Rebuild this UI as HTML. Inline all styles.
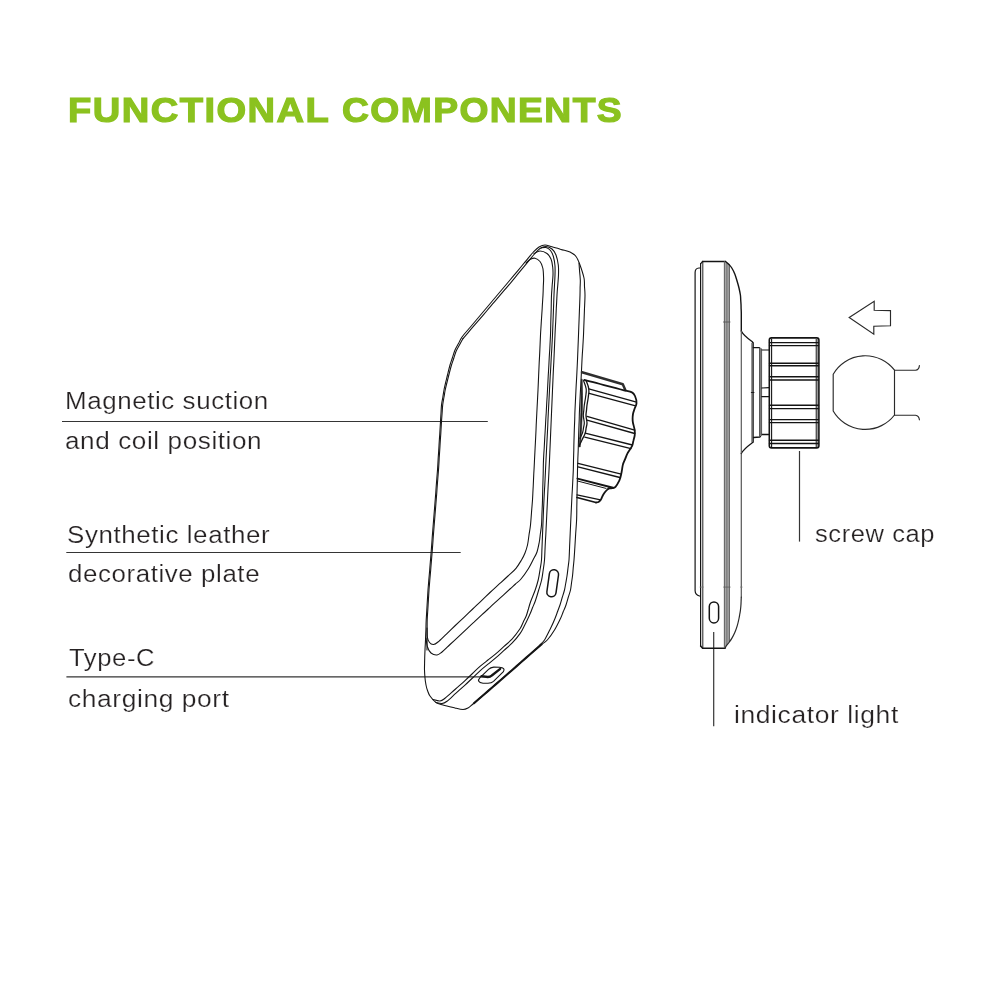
<!DOCTYPE html>
<html>
<head>
<meta charset="utf-8">
<title>Functional Components</title>
<style>
html,body{margin:0;padding:0;background:#fff;}
body{width:1000px;height:1000px;position:relative;overflow:hidden;font-family:"Liberation Sans",sans-serif;}
svg{position:absolute;left:0;top:0;}
.t{will-change:transform;position:absolute;white-space:nowrap;line-height:1;transform-origin:0 0;display:block;}
.h{font-weight:bold;font-size:34.4px;color:#8bc21f;top:93.1px;-webkit-text-stroke:1.2px #8bc21f;}
.l{font-size:22px;color:#262223;letter-spacing:0.5px;-webkit-text-stroke:0.2px #fff;}
</style>
</head>
<body>
<svg width="1000" height="1000" viewBox="0 0 1000 1000" fill="none" stroke="#141414" stroke-linecap="round" stroke-linejoin="round">
<path d="M62.0,421.5L487.8,421.5" stroke-width="1.2" stroke="#353535" stroke-linecap="butt"/>
<path d="M66.3,552.5L460.7,552.5" stroke-width="1.2" stroke="#353535" stroke-linecap="butt"/>
<path d="M66.4,676.9L489.0,676.9" stroke-width="1.25" stroke="#353535" stroke-linecap="butt"/>
<path d="M799.5,451.0L799.5,541.6" stroke-width="1.2" stroke="#353535" stroke-linecap="butt"/>
<path d="M713.7,632.0L713.7,726.2" stroke-width="1.2" stroke="#353535" stroke-linecap="butt"/>
<path d="M424.8,655.0C424.9,652.6 425.0,650.0 425.1,647.5C425.3,645.0 425.4,642.9 425.5,640.0C425.6,637.1 425.7,633.3 425.9,630.0C426.0,626.7 426.0,623.3 426.2,620.0C426.4,616.7 426.6,613.3 426.8,610.0C427.0,606.7 427.2,603.3 427.4,600.0C427.6,596.7 427.8,593.3 428.0,590.0C428.2,586.7 428.6,583.3 428.8,580.0C429.1,576.7 429.4,573.3 429.7,570.0C429.9,566.7 430.2,563.5 430.5,560.0C430.8,556.5 431.1,552.5 431.4,548.8C431.7,545.0 432.0,541.2 432.2,537.5C432.5,533.8 432.8,530.0 433.1,526.2C433.4,522.5 433.7,518.8 434.0,515.0C434.3,511.2 434.6,507.5 434.9,503.8C435.2,500.0 435.5,496.2 435.8,492.5C436.0,488.8 436.3,485.0 436.6,481.2C436.9,477.5 437.2,473.9 437.5,470.0C437.8,466.1 438.0,461.9 438.2,457.9C438.5,453.8 438.8,449.8 439.0,445.8C439.2,441.7 439.5,437.7 439.8,433.6C440.0,429.6 440.3,424.9 440.5,421.5C440.7,418.1 440.8,416.0 441.0,413.2C441.2,410.5 441.2,407.6 441.5,405.0C441.8,402.4 442.3,400.0 442.8,397.5C443.2,395.0 443.4,393.1 444.0,390.0C444.6,386.9 445.8,382.0 446.5,379.0C447.2,376.0 447.7,374.3 448.2,372.0C448.8,369.7 449.3,367.4 450.0,365.0C450.7,362.6 451.7,360.0 452.5,357.5C453.3,355.0 454.0,352.3 455.0,350.0C456.0,347.7 457.3,345.7 458.5,343.5C459.7,341.3 460.1,339.7 462.0,337.0C463.9,334.3 467.3,330.7 470.0,327.5C472.7,324.3 475.3,321.2 478.0,318.0C480.7,314.8 483.3,311.7 486.0,308.5C488.7,305.3 491.3,302.2 494.0,299.0C496.7,295.8 499.3,292.7 502.0,289.5C504.7,286.3 507.4,283.1 510.0,280.0C512.6,276.9 515.1,273.9 517.7,270.8C520.2,267.8 522.8,264.7 525.3,261.7C527.9,258.6 530.7,254.9 533.0,252.5C535.3,250.1 537.0,248.2 539.0,247.0C541.0,245.8 542.8,245.0 545.0,245.0C547.2,245.0 549.3,246.1 552.0,246.8C554.7,247.5 558.0,248.5 561.0,249.4C564.0,250.3 567.5,250.8 570.0,252.0C572.5,253.2 574.3,254.3 576.0,256.5C577.7,258.7 578.7,261.4 580.0,265.0C581.3,268.6 583.2,274.4 584.0,278.0C584.8,281.6 584.3,283.7 584.5,286.5C584.7,289.3 585.0,291.4 585.0,295.0C585.0,298.6 584.7,303.9 584.5,308.3C584.3,312.8 584.2,317.2 584.0,321.7C583.8,326.1 583.7,330.7 583.5,335.0C583.3,339.3 583.0,343.3 582.8,347.5C582.5,351.7 582.2,355.8 582.0,360.0C581.8,364.2 581.6,368.3 581.4,372.5C581.2,376.7 581.0,380.8 580.8,385.0C580.5,389.2 580.3,393.3 580.1,397.5C579.9,401.7 579.7,406.2 579.5,410.0C579.3,413.8 579.3,416.7 579.2,420.0C579.1,423.3 578.9,426.7 578.8,430.0C578.7,433.3 578.6,436.7 578.5,440.0C578.4,443.3 578.3,446.7 578.2,450.0C578.1,453.3 577.9,456.7 577.8,460.0C577.7,463.3 577.6,466.2 577.5,470.0C577.4,473.8 577.4,478.3 577.3,482.5C577.2,486.7 577.1,490.8 577.0,495.0C577.0,499.2 576.9,503.3 576.8,507.5C576.8,511.7 576.8,515.7 576.6,520.0C576.4,524.3 576.0,528.9 575.7,533.3C575.4,537.8 575.2,542.2 574.9,546.7C574.6,551.1 574.3,556.4 574.0,560.0C573.7,563.6 573.5,565.3 573.2,568.0C573.0,570.7 572.8,573.5 572.5,576.0C572.2,578.5 571.8,580.7 571.5,583.0C571.2,585.3 571.0,587.6 570.5,590.0C570.0,592.4 569.0,595.0 568.2,597.5C567.5,600.0 566.8,602.6 566.0,605.0C565.2,607.4 564.2,609.5 563.2,611.8C562.3,614.0 562.0,615.5 560.5,618.5C559.0,621.5 556.7,626.4 554.5,630.0C552.3,633.6 549.7,637.4 547.3,640.0C544.9,642.6 542.8,643.3 540.0,645.6C537.2,647.9 533.8,651.1 530.7,653.8C527.6,656.5 524.4,659.3 521.3,662.0C518.2,664.7 515.2,667.4 512.0,670.2C508.8,673.0 505.5,675.8 502.2,678.7C499.0,681.5 495.8,684.3 492.5,687.1C489.2,689.9 486.0,692.7 482.8,695.5C479.5,698.4 475.5,701.9 473.0,704.0C470.5,706.1 469.7,707.1 468.0,708.0C466.3,708.9 465.2,709.5 463.0,709.5C460.8,709.5 458.3,708.8 455.0,708.0C451.7,707.2 446.2,705.9 443.0,705.0C439.8,704.1 438.2,704.0 436.0,702.5C433.8,701.0 431.4,698.0 430.0,696.0C428.6,694.0 428.2,692.3 427.5,690.5C426.8,688.7 426.4,687.1 426.0,685.0C425.6,682.9 425.2,680.5 425.0,678.0C424.8,675.5 424.6,672.7 424.5,670.0C424.4,667.3 424.6,664.5 424.6,662.0C424.7,659.5 424.7,657.4 424.8,655.0Z" stroke-width="1.08" />
<path d="M541.5,644.4C541.2,644.6 541.8,644.0 540.0,645.6C538.2,647.2 533.8,651.1 530.7,653.8C527.6,656.5 524.4,659.3 521.3,662.0C518.2,664.7 515.1,667.5 512.0,670.2C508.9,672.9 505.7,675.7 502.5,678.5C499.3,681.2 496.2,684.0 493.0,686.7C489.8,689.5 486.7,692.2 483.5,695.0C480.3,697.7 475.6,701.8 474.0,703.2" stroke-width="2.1" />
<path d="M579.0,263.0C579.1,264.4 579.4,268.7 579.6,271.5C579.9,274.3 580.2,277.3 580.3,280.0C580.4,282.7 580.2,285.0 580.1,287.5C580.1,290.0 580.1,291.5 580.0,295.0C579.9,298.5 579.7,303.9 579.5,308.3C579.3,312.8 579.2,317.2 579.0,321.7C578.8,326.1 578.7,330.7 578.5,335.0C578.3,339.3 578.2,343.3 578.0,347.5C577.8,351.7 577.7,355.8 577.5,360.0C577.3,364.2 577.1,368.3 576.9,372.5C576.7,376.7 576.5,380.8 576.2,385.0C576.0,389.2 575.8,393.3 575.6,397.5C575.4,401.7 575.2,406.2 575.0,410.0C574.8,413.8 574.8,416.7 574.7,420.0C574.6,423.3 574.4,426.7 574.3,430.0C574.2,433.3 574.1,436.7 574.0,440.0C573.9,443.3 573.8,446.7 573.8,450.0C573.7,453.3 573.6,456.7 573.5,460.0C573.5,463.3 573.4,466.2 573.3,470.0C573.2,473.8 572.9,478.3 572.7,482.5C572.5,486.7 572.3,490.8 572.0,495.0C571.8,499.2 571.6,503.3 571.4,507.5C571.2,511.7 571.0,515.7 570.8,520.0C570.6,524.3 570.4,528.9 570.2,533.3C570.0,537.8 569.8,542.2 569.6,546.7C569.4,551.1 569.3,556.4 569.0,560.0C568.7,563.6 568.3,565.3 568.0,568.0C567.7,570.7 567.4,573.5 567.0,576.0C566.6,578.5 566.2,580.7 565.8,583.0C565.3,585.3 565.1,587.6 564.5,590.0C563.9,592.4 563.0,595.0 562.2,597.5C561.5,600.0 560.8,602.6 560.0,605.0C559.2,607.4 558.3,609.5 557.5,611.8C556.7,614.0 556.2,615.5 555.0,618.5C553.8,621.5 551.8,625.9 550.0,629.5C548.2,633.1 546.2,637.5 544.5,640.0C542.8,642.5 540.8,644.0 540.0,644.8" stroke-width="1.08" />
<path d="M462.8,338.8C464.2,337.2 468.3,332.4 471.0,329.2C473.8,326.0 476.5,322.8 479.3,319.6C482.0,316.4 484.8,313.2 487.5,310.0C490.2,306.8 492.8,303.7 495.5,300.6C498.2,297.5 500.8,294.3 503.5,291.2C506.2,288.1 508.9,284.9 511.5,281.8C514.1,278.7 516.5,275.7 519.0,272.7C521.5,269.7 524.0,266.6 526.5,263.6C529.0,260.6 531.8,257.0 534.0,254.5C536.2,252.0 538.0,249.8 540.0,248.5C542.0,247.2 544.0,246.4 546.0,246.5C548.0,246.6 550.3,247.6 552.0,249.0C553.7,250.4 555.0,252.3 556.0,255.0C557.0,257.7 557.9,261.7 558.3,265.0C558.7,268.3 558.6,271.7 558.5,275.0C558.4,278.3 558.0,281.7 557.8,285.0C557.5,288.3 557.2,291.1 557.0,295.0C556.8,298.9 556.6,303.9 556.3,308.3C556.1,312.8 555.9,317.2 555.7,321.7C555.4,326.1 555.2,330.5 555.0,335.0C554.8,339.5 554.6,344.2 554.4,348.8C554.2,353.3 554.0,357.9 553.8,362.5C553.5,367.1 553.3,371.7 553.1,376.2C552.9,380.8 552.7,385.8 552.5,390.0C552.3,394.2 552.2,397.8 552.0,401.7C551.8,405.6 551.7,409.4 551.5,413.3C551.3,417.2 551.2,421.1 551.0,425.0C550.8,428.9 550.7,432.8 550.5,436.7C550.3,440.6 550.2,444.4 550.0,448.3C549.8,452.2 549.7,456.0 549.5,460.0C549.3,464.0 549.1,468.3 548.9,472.5C548.7,476.7 548.5,480.8 548.2,485.0C548.0,489.2 547.8,493.3 547.6,497.5C547.4,501.7 547.2,505.8 547.0,510.0C546.8,514.2 546.6,518.3 546.4,522.5C546.2,526.7 546.0,530.8 545.8,535.0C545.5,539.2 545.3,543.3 545.1,547.5C544.9,551.7 544.8,556.2 544.5,560.0C544.2,563.8 543.7,566.7 543.2,570.0C542.7,573.3 542.4,576.7 541.6,580.0C540.9,583.3 539.8,586.5 538.7,590.0C537.7,593.5 536.3,598.1 535.3,601.0C534.3,603.9 533.5,605.3 532.6,607.5C531.8,609.7 531.3,611.2 530.0,614.0C528.7,616.8 526.7,621.2 525.0,624.5C523.3,627.8 522.2,630.5 520.0,633.6C517.8,636.7 514.7,640.4 512.0,643.2C509.3,646.0 506.7,648.0 504.0,650.4C501.3,652.8 498.7,655.3 496.0,657.6C493.3,659.9 490.7,662.0 488.0,664.2C485.3,666.4 482.6,668.5 480.0,670.8C477.4,673.1 475.0,675.6 472.5,678.0C470.0,680.3 467.8,682.6 465.0,685.1C462.2,687.6 459.0,690.5 456.0,693.2C453.0,695.8 449.3,699.5 447.0,701.2C444.7,702.9 443.8,703.3 442.0,703.5C440.2,703.7 437.0,702.7 436.0,702.5" stroke-width="1.08" />
<path d="M541.0,248.0C541.8,247.9 544.4,247.1 546.0,247.5C547.6,247.9 549.2,248.9 550.5,250.5C551.8,252.1 552.8,254.4 553.5,257.0C554.2,259.6 554.8,263.0 555.0,266.0C555.2,269.0 555.1,271.8 555.0,275.0C554.9,278.2 554.7,281.7 554.5,285.0C554.3,288.3 554.2,291.1 554.0,295.0C553.8,298.9 553.7,303.9 553.5,308.3C553.3,312.8 553.2,317.2 553.0,321.7C552.8,326.1 552.7,330.5 552.5,335.0C552.3,339.5 552.0,344.2 551.8,348.8C551.5,353.3 551.2,357.9 551.0,362.5C550.8,367.1 550.5,371.7 550.2,376.2C550.0,380.8 549.7,385.8 549.5,390.0C549.3,394.2 549.1,397.8 548.9,401.7C548.7,405.6 548.5,409.4 548.3,413.3C548.1,417.2 547.9,421.1 547.8,425.0C547.6,428.9 547.4,432.8 547.2,436.7C547.0,440.6 546.8,444.4 546.6,448.3C546.4,452.2 546.2,456.0 546.0,460.0C545.8,464.0 545.6,468.3 545.4,472.5C545.2,476.7 545.0,480.8 544.8,485.0C544.5,489.2 544.3,493.3 544.1,497.5C543.9,501.7 543.7,505.8 543.5,510.0C543.3,514.2 543.2,518.3 543.0,522.5C542.8,526.7 542.7,530.8 542.5,535.0C542.3,539.2 542.2,543.3 542.0,547.5C541.8,551.7 541.8,556.2 541.5,560.0C541.2,563.8 540.5,566.7 540.0,570.0C539.5,573.3 539.0,576.7 538.2,580.0C537.4,583.3 536.5,586.3 535.2,590.0C533.9,593.7 531.6,598.8 530.5,602.0C529.4,605.2 529.1,606.7 528.4,609.0C527.6,611.3 527.1,613.8 526.2,616.0C525.3,618.2 524.1,620.3 523.1,622.4C522.1,624.5 521.9,626.0 520.0,628.8C518.1,631.6 514.7,636.3 512.0,639.2C509.3,642.1 506.7,644.0 504.0,646.4C501.3,648.8 498.7,651.3 496.0,653.6C493.3,655.9 490.7,657.9 488.0,660.0C485.3,662.1 482.6,664.1 480.0,666.4C477.4,668.6 475.0,671.1 472.5,673.5C470.0,675.9 467.9,677.9 465.0,680.6C462.1,683.3 458.3,686.5 455.0,689.5C451.7,692.4 447.5,696.4 445.0,698.3C442.5,700.2 442.0,700.8 440.0,701.0C438.0,701.2 434.2,699.8 433.0,699.5" stroke-width="1.08" />
<path d="M534.0,253.5C535.0,253.1 537.8,251.0 540.0,251.0C542.2,251.0 545.2,252.2 547.0,253.5C548.8,254.8 550.0,256.8 551.0,259.0C552.0,261.2 552.4,264.3 552.7,267.0C553.0,269.7 553.1,272.0 553.0,275.0C552.9,278.0 552.5,281.7 552.2,285.0C552.0,288.3 551.7,291.1 551.5,295.0C551.3,298.9 551.3,303.9 551.2,308.3C551.1,312.8 550.9,317.2 550.8,321.7C550.7,326.1 550.7,330.5 550.5,335.0C550.3,339.5 550.0,344.2 549.8,348.8C549.5,353.3 549.2,357.9 549.0,362.5C548.8,367.1 548.5,371.7 548.2,376.2C548.0,380.8 547.7,385.8 547.5,390.0C547.3,394.2 547.1,397.8 546.8,401.7C546.6,405.6 546.4,409.4 546.2,413.3C545.9,417.2 545.7,421.1 545.5,425.0C545.3,428.9 545.1,432.8 544.8,436.7C544.6,440.6 544.4,444.4 544.2,448.3C543.9,452.2 543.7,455.8 543.5,460.0C543.3,464.2 543.3,468.9 543.2,473.3C543.1,477.8 542.9,482.2 542.8,486.7C542.7,491.1 542.6,495.7 542.5,500.0C542.4,504.3 542.2,508.3 542.0,512.5C541.8,516.7 541.8,521.5 541.5,525.0C541.2,528.5 540.8,530.7 540.4,533.5C540.0,536.3 539.9,538.9 539.3,542.0C538.7,545.1 538.0,549.0 537.0,552.0C536.0,555.0 534.4,557.2 533.0,560.0C531.6,562.8 530.5,565.3 528.5,568.5C526.5,571.7 523.2,576.4 521.0,579.0C518.8,581.6 517.3,582.3 515.5,584.0C513.7,585.7 512.6,586.6 510.0,589.0C507.4,591.4 503.3,595.1 500.0,598.1C496.7,601.2 493.0,604.5 490.0,607.3C487.0,610.1 484.7,612.3 482.0,614.7C479.3,617.2 476.7,619.7 474.0,622.2C471.3,624.6 468.7,627.1 466.0,629.6C463.3,632.1 460.7,634.6 458.0,637.1C455.3,639.6 452.7,642.0 450.0,644.5C447.3,647.0 444.2,650.3 442.0,652.0C439.8,653.7 438.8,654.8 437.0,655.0C435.2,655.2 432.6,654.3 431.0,653.0C429.4,651.7 428.3,649.5 427.5,647.0C426.7,644.5 426.2,639.5 426.0,638.0" stroke-width="1.08" />
<path d="M526.0,263.0C526.7,262.4 528.5,260.3 530.0,259.5C531.5,258.7 533.3,257.9 535.0,258.2C536.7,258.5 538.7,259.9 540.0,261.5C541.3,263.1 542.2,265.2 542.8,268.0C543.4,270.8 543.5,274.9 543.6,278.0C543.7,281.1 543.4,283.7 543.3,286.5C543.2,289.3 543.2,291.4 543.0,295.0C542.8,298.6 542.4,303.9 542.2,308.3C541.9,312.8 541.6,317.2 541.3,321.7C541.1,326.1 540.7,330.5 540.5,335.0C540.3,339.5 540.1,344.2 539.9,348.8C539.7,353.3 539.5,357.9 539.2,362.5C539.0,367.1 538.8,371.7 538.6,376.2C538.4,380.8 538.2,385.8 538.0,390.0C537.8,394.2 537.6,397.8 537.4,401.7C537.2,405.6 537.0,409.4 536.8,413.3C536.6,417.2 536.4,421.1 536.2,425.0C536.1,428.9 535.9,432.8 535.7,436.7C535.5,440.6 535.3,444.4 535.1,448.3C534.9,452.2 534.7,455.8 534.5,460.0C534.3,464.2 534.1,468.9 533.8,473.3C533.6,477.8 533.4,482.2 533.2,486.7C532.9,491.1 532.8,495.7 532.5,500.0C532.2,504.3 531.8,508.3 531.5,512.5C531.2,516.7 530.9,521.2 530.5,525.0C530.1,528.8 529.5,531.7 529.0,535.0C528.5,538.3 528.2,542.0 527.5,545.0C526.8,548.0 526.0,550.5 525.0,553.0C524.0,555.5 523.0,557.5 521.5,560.0C520.0,562.5 518.2,565.6 516.0,568.3C513.8,571.0 510.8,573.3 508.0,576.0C505.2,578.7 502.0,581.5 499.0,584.2C496.0,587.0 492.9,589.7 490.0,592.5C487.1,595.3 484.2,598.0 481.3,600.8C478.4,603.5 475.6,606.3 472.7,609.0C469.8,611.8 466.9,614.5 464.0,617.3C461.1,620.0 458.2,622.8 455.3,625.5C452.4,628.3 449.6,631.0 446.7,633.8C443.8,636.5 440.2,640.2 438.0,642.0C435.8,643.8 434.9,644.4 433.5,644.5C432.1,644.6 430.5,643.8 429.5,642.5C428.5,641.2 427.7,639.4 427.3,637.0C426.9,634.6 427.1,629.5 427.0,628.0" stroke-width="1.08" />
<path d="M427.0,650.0C427.0,648.3 427.0,643.3 427.1,640.0C427.1,636.7 427.1,633.3 427.1,630.0C427.2,626.7 427.1,623.3 427.2,620.0C427.3,616.7 427.6,613.3 427.8,610.0C428.0,606.7 428.2,603.3 428.4,600.0C428.6,596.7 428.8,593.3 429.0,590.0C429.2,586.7 429.6,583.3 429.8,580.0C430.1,576.7 430.4,573.3 430.7,570.0C430.9,566.7 431.2,563.5 431.5,560.0C431.8,556.5 432.1,552.5 432.4,548.8C432.7,545.0 433.0,541.2 433.2,537.5C433.5,533.8 433.8,530.0 434.1,526.2C434.4,522.5 434.7,518.8 435.0,515.0C435.3,511.2 435.6,507.5 435.9,503.8C436.2,500.0 436.5,496.2 436.8,492.5C437.0,488.8 437.3,485.0 437.6,481.2C437.9,477.5 438.2,473.9 438.5,470.0C438.8,466.1 439.0,461.9 439.2,457.9C439.5,453.8 439.8,449.8 440.0,445.8C440.2,441.7 440.5,437.7 440.8,433.6C441.0,429.6 441.3,424.9 441.5,421.5C441.7,418.1 441.9,416.0 442.1,413.2C442.3,410.5 442.4,407.6 442.7,405.0C443.0,402.4 443.5,400.0 443.9,397.5C444.4,395.0 444.6,393.0 445.2,390.0C445.8,387.0 446.7,383.5 447.7,379.5C448.7,375.5 450.2,369.5 451.2,366.0C452.2,362.5 452.9,361.0 453.7,358.5C454.5,356.0 455.2,353.3 456.2,351.0C457.2,348.7 458.5,346.8 459.6,344.8C460.7,342.7 462.4,339.5 463.0,338.5" stroke-width="1.08" />
<path d="M549.4,573.6 a4.6,4.6 0 0 1 9.1,1.4 l-2.5,17.9 a4.6,4.6 0 0 1 -9.1,-1.4 Z" stroke-width="1.5" />
<path d="M480,677.6 L488.5,669.3 Q490.5,667.4 493.8,667.1 L499.5,667.2 Q505.8,667.8 503.4,671.6 L493.5,681.3 Q491.5,683 488,683.3 L483,683.2 Q476,682 480,677.6 Z" stroke-width="1.1" />
<path d="M481.5,676.1 L487.8,677 Q490.3,677 491.8,675.5 L500.2,668.8" stroke-width="2.3" />
<path d="M582.0,372.2L622.8,384.3L625.3,390.0" stroke-width="2.5" stroke="#2e2e2e"/>
<path d="M584.3,379.8C585.6,380.2 589.6,381.2 592.2,381.9C594.8,382.6 597.5,383.3 600.1,384.0C602.7,384.7 605.4,385.4 608.0,386.1C610.6,386.8 613.3,387.5 616.0,388.2C618.7,388.9 621.3,389.6 624.0,390.3C626.7,391.0 630.2,391.4 632.0,392.4C633.8,393.3 634.2,394.2 635.0,396.0C635.8,397.8 636.6,401.0 636.5,403.2C636.4,405.4 635.1,407.2 634.5,409.0C633.9,410.8 633.3,412.3 633.0,414.0C632.7,415.7 632.6,417.5 632.6,419.0C632.6,420.5 632.6,421.1 633.0,423.0C633.4,424.9 634.4,428.1 634.7,430.2C635.0,432.3 634.9,433.6 634.7,435.4C634.5,437.2 633.8,439.0 633.4,440.8C632.9,442.6 633.0,444.1 632.0,446.2C631.0,448.3 628.6,451.3 627.5,453.4C626.4,455.5 626.0,457.0 625.2,458.8C624.5,460.6 623.5,462.5 623.0,464.2C622.5,465.9 622.4,467.5 622.1,469.1C621.8,470.8 621.7,472.2 621.2,474.1C620.8,476.0 620.4,478.3 619.4,480.4C618.4,482.5 616.7,485.5 615.5,486.8C614.3,488.1 613.1,487.9 612.0,488.2C610.9,488.5 609.2,488.4 608.6,488.5" stroke-width="1.8" />
<path d="M586.0,380.3C586.5,381.7 588.4,386.0 588.8,388.8C589.2,391.6 588.6,394.3 588.3,397.0C588.0,399.7 587.3,402.8 587.0,405.0C586.7,407.2 586.7,408.6 586.5,410.4C586.3,412.2 585.9,413.7 586.0,415.8C586.1,417.9 587.0,420.9 587.0,423.0C587.0,425.1 586.4,426.4 586.1,428.1C585.8,429.8 585.9,431.2 585.2,433.2C584.5,435.2 583.0,437.8 582.0,440.0C581.0,442.2 579.4,445.2 578.9,446.2" stroke-width="1.3" />
<path d="M583.5,380.5C584.0,381.9 585.9,386.2 586.2,389.0C586.6,391.8 585.9,394.3 585.6,397.0C585.3,399.7 584.6,402.8 584.3,405.0C584.0,407.2 584.0,408.6 583.8,410.4C583.6,412.2 583.2,413.7 583.3,415.8C583.4,417.9 584.3,421.0 584.3,423.0C584.3,425.0 583.7,426.2 583.5,427.8C583.2,429.3 583.2,430.7 582.6,432.5C582.0,434.3 580.4,437.5 580.0,438.5" stroke-width="1.2" />
<path d="M588.8,388.8L635.6,401.9" stroke-width="1.3" />
<path d="M589.2,393.3L634.7,405.6" stroke-width="1.3" />
<path d="M587.0,416.3L634.7,430.2" stroke-width="1.3" />
<path d="M587.0,420.2L634.7,433.5" stroke-width="1.3" />
<path d="M585.2,433.2L632.4,445.0" stroke-width="1.3" />
<path d="M584.8,437.2L631.0,448.7" stroke-width="1.3" />
<path d="M578.0,463.3L621.2,474.1" stroke-width="1.3" />
<path d="M578.0,466.9L619.9,477.5" stroke-width="1.3" />
<path d="M577.5,478.6L613.0,487.8" stroke-width="2.0" />
<path d="M577.5,481.0L606.0,488.4" stroke-width="1.0" />
<path d="M608.6,488.5C608.1,489.0 606.4,490.4 605.5,491.5C604.6,492.6 603.8,493.8 603.2,494.8C602.6,495.8 602.3,496.6 601.9,497.5C601.4,498.4 601.1,499.4 600.5,500.2C599.9,500.9 599.2,501.6 598.5,502.0C597.8,502.4 596.4,502.4 596.0,502.5" stroke-width="1.8" />
<path d="M577.0,494.8L600.5,499.8" stroke-width="1.3" />
<path d="M577.0,497.5L596.0,502.5" stroke-width="1.8" />
<path d="M700.5,268 L699,268 Q695.1,268.3 695.1,272.5 L695.1,590.7 Q695.3,595 699.5,596 L700.5,596.2" stroke-width="1.2" />
<path d="M700.6,263.6 L702.8,261.5" stroke-width="1.2" />
<path d="M700.6,263.6L700.6,646.0" stroke-width="1.2" />
<path d="M702.8,261.8L702.8,648.0" stroke-width="1.05" stroke="#2a2a2a"/>
<path d="M702.5,261.5L725.5,261.5" stroke-width="1.5" />
<path d="M700.6,646 L702.6,648.3 L725,648.3" stroke-width="1.5" />
<path d="M724.2,261.8 L725.5,261.6 L729.7,265 L729.7,641.6 L726.4,645.6 L724.2,648 Z" stroke-width="0" fill="#a6a6a6" stroke="none"/>
<path d="M724.4,261.8L724.4,647.5" stroke-width="1.1" stroke="#666"/>
<path d="M726.9,263.0L726.9,645.0" stroke-width="1.0" stroke="#6e6e6e"/>
<path d="M729.4,264.8L729.4,641.5" stroke-width="1.1" stroke="#666"/>
<path d="M725.5,261.5C726.1,262.0 728.0,263.4 729.0,264.5C730.0,265.6 730.8,266.4 731.8,268.0C732.8,269.6 733.9,271.8 734.8,274.0C735.7,276.2 736.5,279.2 737.2,281.5C737.9,283.8 738.5,285.8 739.0,288.0C739.5,290.2 740.1,293.1 740.4,295.0C740.7,296.9 740.6,298.0 740.7,299.5C740.8,301.0 740.9,302.5 741.0,304.0C741.1,305.5 741.1,307.0 741.1,308.5C741.2,310.0 741.3,311.2 741.3,313.0C741.3,314.8 741.3,317.0 741.3,319.0C741.3,321.0 741.3,323.0 741.3,325.0C741.3,327.0 741.3,330.0 741.3,331.0" stroke-width="1.4" />
<path d="M741.3,331 Q743.5,335.5 752,341.5 L753.2,343 L753.2,347.6" stroke-width="1.3" />
<path d="M741.3,453.0L741.3,597.0" stroke-width="1.2" stroke="#555"/>
<path d="M741.3,597.0C741.2,598.2 741.1,601.8 741.0,604.0C740.9,606.2 740.6,608.8 740.4,610.5C740.2,612.2 739.9,613.2 739.7,614.5C739.5,615.8 739.4,616.6 739.0,618.5C738.6,620.4 737.9,623.5 737.2,625.8C736.5,628.1 735.7,630.4 734.8,632.5C733.9,634.6 732.8,636.7 731.8,638.4C730.8,640.1 729.9,641.3 729.0,642.5C728.1,643.7 727.1,644.6 726.4,645.6C725.7,646.6 725.2,647.8 725.0,648.3" stroke-width="1.2" stroke="#2a2a2a"/>
<path d="M753.2,437.5 L753.2,442 L751,443.8 Q744,449 741.3,453.5" stroke-width="1.3" />
<path d="M752.4,343.0L752.4,442.0" stroke-width="2.2" stroke="#6a6a6a" stroke-linecap="butt"/>
<path d="M753.4,343.0L753.4,442.0" stroke-width="0.9" stroke="#333"/>
<path d="M753.2,347.6 L759.5,347.6 L761.2,350 L769,350" stroke-width="1.2" />
<path d="M769,434.5 L761.5,434.5 L760,437 L753.5,437.5" stroke-width="1.3" />
<path d="M760.5,348.0L760.5,436.0" stroke-width="2.4" stroke="#7a7a7a" stroke-linecap="butt"/>
<path d="M759.5,347.5L759.5,436.5" stroke-width="0.8" stroke="#444"/>
<path d="M761.6,349.5L761.6,434.5" stroke-width="0.8" stroke="#444"/>
<path d="M761.8,388.0L769.0,387.6" stroke-width="1.1" />
<path d="M761.8,396.6L769.0,396.6" stroke-width="1.3" />
<path d="M751.3,392.5L754.0,392.5" stroke-width="0.9" />
<path d="M741.3,331.0L741.3,453.0" stroke-width="1.2" stroke="#5a5a5a"/>
<path d="M723.5,322.0L730.0,322.0" stroke-width="0.9" stroke="#555"/>
<path d="M700.0,587.1L703.4,587.1" stroke-width="0.7" stroke="#777"/>
<path d="M723.6,587.1L730.2,587.1" stroke-width="0.7" stroke="#555"/>
<path d="M740.4,587.1L742.2,587.1" stroke-width="0.7" stroke="#777"/>
<rect x="769.3" y="337.9" width="49.6" height="110" rx="2.2" stroke-width="1.6"/>
<path d="M771.6,339.0L771.6,447.0" stroke-width="1.1" />
<path d="M816.6,339.0L816.6,447.0" stroke-width="2.0" stroke="#555" stroke-linecap="butt"/>
<path d="M769.5,342.6L818.5,342.6" stroke-width="1.4" />
<path d="M769.5,345.6L818.5,345.6" stroke-width="1.4" />
<path d="M769.5,363.2L818.5,363.2" stroke-width="1.4" />
<path d="M769.5,365.7L818.5,365.7" stroke-width="1.4" />
<path d="M769.5,376.7L818.5,376.7" stroke-width="1.4" />
<path d="M769.5,380.0L818.5,380.0" stroke-width="1.4" />
<path d="M769.5,405.2L818.5,405.2" stroke-width="1.4" />
<path d="M769.5,408.6L818.5,408.6" stroke-width="1.4" />
<path d="M769.5,419.6L818.5,419.6" stroke-width="1.4" />
<path d="M769.5,422.6L818.5,422.6" stroke-width="1.4" />
<path d="M769.5,440.2L818.5,440.2" stroke-width="1.4" />
<path d="M769.5,443.5L818.5,443.5" stroke-width="1.4" />
<rect x="709.3" y="601.9" width="9.3" height="21" rx="4.65" stroke-width="1.5"/>
<path d="M833.2,374.2 A37,37 0 0 1 894.5,370.2 L894.5,415 A37,37 0 0 1 833.2,411 Z" stroke-width="1.15" stroke="#2a2a2a"/>
<path d="M894.5,370.2 L915.5,370.2 Q919,369.8 919.4,365.6" stroke-width="1.15" stroke="#2a2a2a"/>
<path d="M894.5,415.2 L915.5,415.2 Q919,415.6 919.4,419.8" stroke-width="1.15" stroke="#2a2a2a"/>
<path d="M849.2,317.6L874.2,301.3L874.2,310.3L890.5,310.6L890.5,325.8L873.8,326.2L873.8,334.2Z" stroke-width="1.15" stroke="#2a2a2a" stroke-linejoin="miter"/>
<path d="M582.2,379.5 Q583.4,412 580.2,447 L579.3,447 Q581.3,412 581.3,379.5 Z" stroke-width="0.6" fill="#222"/>
</svg>
<div class="t h" id="h1" style="left:67.98px;letter-spacing:1.30px;transform:scaleX(1.1086)">FUNCTIONAL</div>
<div class="t h" id="h2" style="left:342.00px;letter-spacing:1.30px;transform:scaleX(1.0831)">COMPONENTS</div>
<div class="t l" id="l1" style="left:65.00px;top:390.10px;transform:scale(1.1776,1.050)">Magnetic suction</div>
<div class="t l" id="l2" style="left:64.99px;top:429.60px;transform:scale(1.1861,1.050)">and coil position</div>
<div class="t l" id="l3" style="left:67.00px;top:524.10px;transform:scale(1.1788,1.050)">Synthetic leather</div>
<div class="t l" id="l4" style="left:68.00px;top:563.10px;transform:scale(1.1763,1.050)">decorative plate</div>
<div class="t l" id="l5" style="left:68.52px;top:647.10px;transform:scale(1.1660,1.050)">Type-C</div>
<div class="t l" id="l6" style="left:67.99px;top:687.60px;transform:scale(1.1981,1.050)">charging port</div>
<div class="t l" id="l7" style="left:814.53px;top:523.10px;transform:scale(1.1604,1.050)">screw cap</div>
<div class="t l" id="l8" style="left:733.97px;top:703.60px;transform:scale(1.2023,1.050)">indicator light</div>
</body>
</html>
